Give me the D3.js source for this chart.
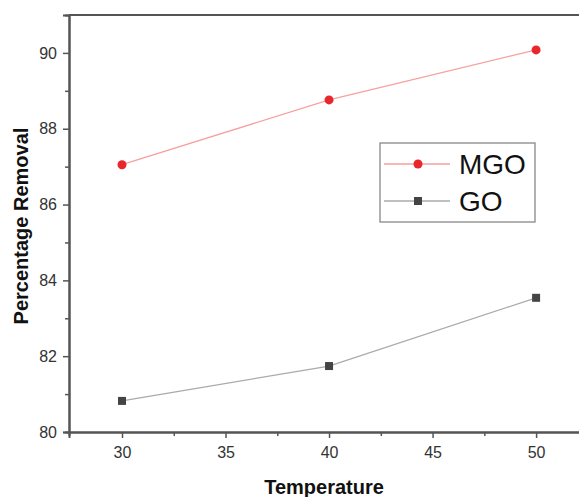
<!DOCTYPE html>
<html>
<head>
<meta charset="utf-8">
<script src="https://cdn.jsdelivr.net/npm/d3@7"></script>
<style>
  body { margin: 0; background: #fff; }
  svg { font-family: Arial, "Liberation Sans", sans-serif; }
</style>
</head>
<body>
<div id="chart"></div>
<script>
var temps = [30, 40, 50];
var mgo = [87.05, 88.76, 90.08];
var go = [80.82, 81.74, 83.54];
var xTicks = [30, 35, 40, 45, 50];
var yTicks = [80, 82, 84, 86, 88, 90];

var svg = d3.select("#chart").append("svg").attr("width", 579).attr("height", 497),
    x = d3.scaleLinear().domain([27.44, 52.7]).range([69, 592]),
    y = d3.scaleLinear().domain([80, 91]).range([432, 15]);

var axisColor = "#555";

// top frame line
svg.append("line").attr("x1", 69).attr("x2", 600).attr("y1", y(91)).attr("y2", y(91))
    .attr("stroke", axisColor).attr("stroke-width", 2);

svg.append("g").attr("transform", "translate(0," + y(80) + ")")
    .call(d3.axisBottom(x).tickValues(xTicks).tickSize(6).tickPadding(9).tickFormat(d3.format("d")));
svg.append("g").attr("transform", "translate(" + x(27.44) + ",0)")
    .call(d3.axisLeft(y).tickValues(yTicks).tickSize(6).tickPadding(6));

// minor ticks
svg.append("g").attr("transform", "translate(0," + y(80) + ")")
    .call(d3.axisBottom(x).tickValues([32.5, 37.5, 42.5, 47.5]).tickSize(4).tickFormat(""));
svg.append("g").attr("transform", "translate(" + x(27.44) + ",0)")
    .call(d3.axisLeft(y).tickValues([81, 83, 85, 87, 89]).tickSize(4).tickFormat(""));

svg.selectAll(".domain").attr("stroke", axisColor).attr("stroke-width", 2);
svg.selectAll(".tick line").attr("stroke", axisColor).attr("stroke-width", 1.5);
svg.selectAll(".tick text").attr("fill", "#333").style("font-size", "16px");

// axis titles
svg.append("text").attr("x", 324).attr("y", 494).attr("text-anchor", "middle")
    .style("font-size", "20px").style("font-weight", "bold").attr("fill", "#111").text("Temperature");
svg.append("text").attr("transform", "translate(28,226) rotate(-90)").attr("text-anchor", "middle")
    .style("font-size", "20px").style("font-weight", "bold").attr("fill", "#111").text("Percentage Removal");

var line = d3.line().x(function(d) { return x(d[0]); }).y(function(d) { return y(d[1]); });

var mgoData = temps.map(function(t, i) { return [t, mgo[i]]; });
var goData = temps.map(function(t, i) { return [t, go[i]]; });

svg.append("path").datum(mgoData).attr("d", line).attr("fill", "none")
    .attr("stroke", "#f7a0a0").attr("stroke-width", 1.3);
svg.append("path").datum(goData).attr("d", line).attr("fill", "none")
    .attr("stroke", "#aaa").attr("stroke-width", 1.3);

svg.selectAll(".mgo").data(mgoData).enter().append("circle")
    .attr("cx", function(d) { return x(d[0]); }).attr("cy", function(d) { return y(d[1]); })
    .attr("r", 4.5).attr("fill", "#e8262b");
svg.selectAll(".go").data(goData).enter().append("rect")
    .attr("x", function(d) { return x(d[0]) - 4; }).attr("y", function(d) { return y(d[1]) - 4; })
    .attr("width", 8).attr("height", 8).attr("fill", "#444");

// legend
var lg = svg.append("g");
lg.append("rect").attr("x", 380).attr("y", 143).attr("width", 155).attr("height", 79)
    .attr("fill", "#fff").attr("stroke", "#888").attr("stroke-width", 1.3);
var items = [{name: "MGO", color: "#f7a0a0", mark: "#e8262b", y: 164},
             {name: "GO", color: "#aaa", mark: "#444", y: 201}];
items.forEach(function(it, i) {
  lg.append("line").attr("x1", 384).attr("x2", 450).attr("y1", it.y).attr("y2", it.y)
      .attr("stroke", it.color).attr("stroke-width", 1.3);
  if (i === 0) lg.append("circle").attr("cx", 418).attr("cy", it.y).attr("r", 4.5).attr("fill", it.mark);
  else lg.append("rect").attr("x", 414).attr("y", it.y - 4).attr("width", 8).attr("height", 8).attr("fill", it.mark);
  lg.append("text").attr("x", 459).attr("y", it.y + 10).style("font-size", "28px").attr("fill", "#111").text(it.name);
});
</script>
</body>
</html>
